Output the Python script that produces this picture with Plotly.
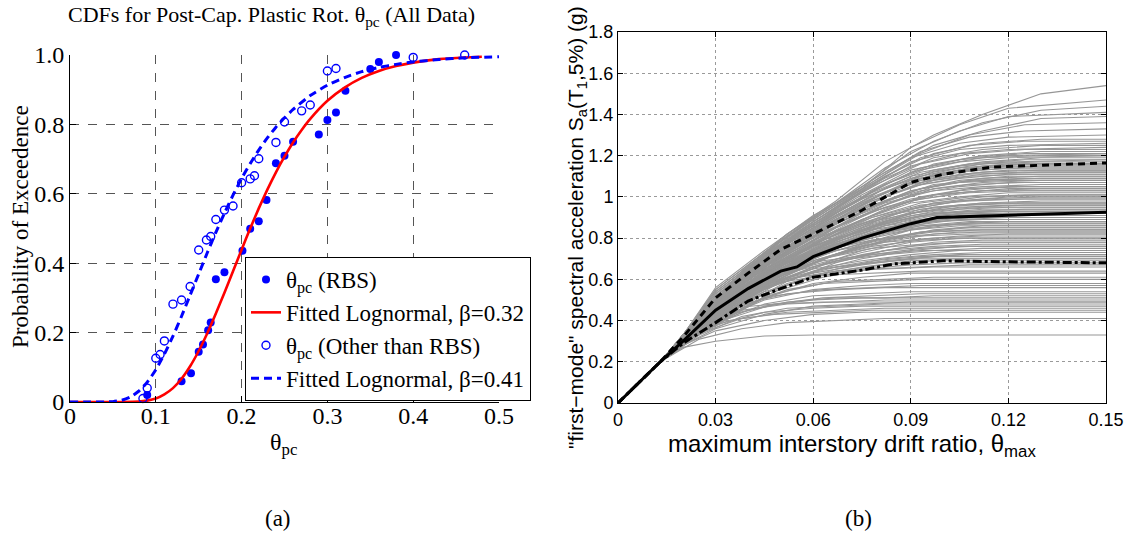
import plotly.graph_objects as go

# ---------------- Panel (a) data ----------------
RBS_THETA = [0.090, 0.130, 0.141, 0.150, 0.155, 0.161, 0.164, 0.170, 0.180, 0.201, 0.210, 0.220,
             0.229, 0.240, 0.250, 0.260, 0.290, 0.300, 0.310, 0.321, 0.350, 0.360, 0.380]
RBS_PROB = [0.020, 0.060, 0.083, 0.145, 0.166, 0.207, 0.229, 0.354, 0.374, 0.436, 0.499, 0.521,
            0.582, 0.688, 0.710, 0.750, 0.771, 0.813, 0.834, 0.897, 0.960, 0.980, 1.000]
OTH_THETA = [0.085, 0.090, 0.100, 0.105, 0.110, 0.120, 0.130, 0.140, 0.150, 0.159, 0.164, 0.170,
             0.180, 0.190, 0.200, 0.210, 0.215, 0.220, 0.240, 0.250, 0.270, 0.280, 0.300, 0.310,
             0.400, 0.460]
OTH_PROB = [0.010, 0.040, 0.126, 0.137, 0.176, 0.282, 0.294, 0.333, 0.438, 0.467, 0.477, 0.526,
            0.553, 0.565, 0.632, 0.643, 0.652, 0.701, 0.748, 0.807, 0.839, 0.856, 0.954, 0.961,
            0.993, 1.000]
FIT_RBS_X = [0.0, 0.02, 0.04, 0.06, 0.08, 0.09, 0.10, 0.11, 0.12, 0.13, 0.14, 0.15, 0.16, 0.17,
             0.18, 0.19, 0.20, 0.21, 0.22, 0.23, 0.24, 0.25, 0.26, 0.27, 0.28, 0.30, 0.32, 0.34,
             0.36, 0.38, 0.40, 0.43, 0.46, 0.48]
FIT_RBS_Y = [0.0, 0.0, 0.0, 0.0, 0.001, 0.004, 0.010, 0.022, 0.040, 0.067, 0.103, 0.147, 0.198,
             0.255, 0.315, 0.377, 0.439, 0.500, 0.558, 0.612, 0.662, 0.707, 0.748, 0.784, 0.816,
             0.868, 0.906, 0.934, 0.954, 0.968, 0.978, 0.988, 0.993, 0.995]
FIT_OTH_X = [0.0, 0.02, 0.04, 0.05, 0.06, 0.07, 0.08, 0.09, 0.10, 0.11, 0.12, 0.13, 0.14, 0.15,
             0.16, 0.17, 0.18, 0.19, 0.20, 0.21, 0.22, 0.23, 0.24, 0.25, 0.26, 0.28, 0.30, 0.32,
             0.34, 0.36, 0.38, 0.40, 0.43, 0.46, 0.50]
FIT_OTH_Y = [0.0, 0.0, 0.0, 0.001, 0.005, 0.014, 0.031, 0.057, 0.093, 0.138, 0.190, 0.247, 0.308,
             0.369, 0.430, 0.489, 0.544, 0.596, 0.644, 0.687, 0.726, 0.761, 0.792, 0.819, 0.843,
             0.883, 0.913, 0.935, 0.952, 0.964, 0.973, 0.980, 0.987, 0.992, 0.995]
A_XTICKS = [0, 0.1, 0.2, 0.3, 0.4, 0.5]
A_XTICKTEXT = ["0", "0.1", "0.2", "0.3", "0.4", "0.5"]
A_YTICKS = [0, 0.2, 0.4, 0.6, 0.8, 1.0]
A_YTICKTEXT = ["0", "0.2", "0.4", "0.6", "0.8", "1.0"]

# ---------------- Panel (b) data ----------------
# drift points shared by each family of IDA records; Sa values per record
DRIFT_A = [0.0, 0.013, 0.02, 0.03, 0.045, 0.06, 0.075, 0.09, 0.105, 0.12, 0.15]
DRIFT_B = [0.0, 0.013, 0.025, 0.038, 0.052, 0.067, 0.082, 0.097, 0.112, 0.13, 0.15]
DRIFT_C = [0.0, 0.013, 0.022, 0.034, 0.048, 0.063, 0.078, 0.093, 0.108, 0.125, 0.15]
SA_A = [
    [0, 0.2, .27, .30, .325, .33, .33, .33, .33, .33, .33],
    [0, 0.2, .28, .35, .40, .43, .44, .44, .44, .44, .44],
    [0, 0.2, .29, .38, .44, .46, .47, .47, .47, .47, .47],
    [0, 0.2, .28, .36, .43, .47, .48, .49, .49, .49, .49],
    [0, 0.2, .30, .41, .47, .50, .51, .51, .51, .51, .51],
    [0, 0.2, .29, .39, .48, .52, .53, .54, .54, .54, .54],
    [0, 0.2, .30, .40, .50, .55, .57, .58, .58, .58, .58],
    [0, 0.2, .29, .38, .51, .58, .61, .63, .63, .63, .63],
    [0, 0.2, .30, .42, .54, .61, .65, .67, .68, .68, .68],
    [0, 0.2, .29, .40, .53, .62, .66, .69, .70, .70, .70],
    [0, 0.2, .30, .43, .56, .63, .67, .70, .72, .72, .72],
    [0, 0.2, .31, .45, .57, .65, .69, .72, .74, .74, .74],
    [0, 0.2, .30, .41, .55, .64, .70, .74, .76, .76, .76],
    [0, 0.2, .30, .44, .57, .66, .72, .76, .78, .78, .78],
    [0, 0.2, .31, .46, .59, .67, .73, .78, .80, .80, .80],
    [0, 0.2, .30, .42, .56, .66, .74, .79, .81, .82, .82],
    [0, 0.2, .31, .45, .59, .69, .76, .81, .83, .83, .83],
    [0, 0.2, .30, .44, .58, .69, .76, .82, .85, .85, .85],
    [0, 0.2, .31, .47, .62, .72, .79, .84, .86, .86, .86],
    [0, 0.2, .30, .43, .57, .68, .77, .84, .87, .88, .88],
    [0, 0.2, .31, .46, .61, .72, .80, .86, .89, .89, .89],
    [0, 0.2, .31, .48, .63, .74, .81, .87, .89, .90, .90],
    [0, 0.2, .30, .44, .59, .71, .80, .87, .90, .91, .91],
    [0, 0.2, .31, .46, .61, .73, .81, .88, .91, .92, .92],
    [0, 0.2, .32, .49, .65, .76, .84, .90, .92, .92, .92],
    [0, 0.2, .30, .45, .60, .72, .81, .88, .92, .93, .93],
    [0, 0.2, .31, .47, .63, .75, .84, .91, .94, .95, .95],
    [0, 0.2, .32, .48, .64, .76, .85, .92, .95, .96, .96],
    [0, 0.2, .31, .46, .62, .74, .84, .92, .96, .97, .97],
    [0, 0.2, .32, .49, .65, .77, .87, .94, .98, .99, .99],
    [0, 0.2, .31, .47, .63, .76, .86, .94, .98, 1.00, 1.00],
    [0, 0.2, .32, .50, .66, .79, .89, .97, 1.00, 1.02, 1.02],
    [0, 0.2, .31, .48, .65, .78, .89, .98, 1.02, 1.04, 1.04],
    [0, 0.2, .32, .50, .67, .80, .91, .99, 1.03, 1.05, 1.05],
    [0, 0.2, .32, .49, .66, .80, .92, 1.01, 1.05, 1.07, 1.07],
    [0, 0.2, .33, .51, .68, .82, .94, 1.03, 1.07, 1.08, 1.08],
    [0, 0.2, .32, .49, .67, .81, .93, 1.03, 1.08, 1.10, 1.10],
    [0, 0.2, .33, .52, .69, .83, .95, 1.05, 1.09, 1.11, 1.11],
    [0, 0.2, .32, .50, .68, .83, .96, 1.06, 1.11, 1.13, 1.13],
    [0, 0.2, .33, .52, .70, .85, .97, 1.07, 1.12, 1.14, 1.14],
    [0, 0.2, .32, .51, .69, .84, .97, 1.08, 1.13, 1.15, 1.15],
    [0, 0.2, .33, .53, .71, .86, .99, 1.09, 1.14, 1.16, 1.16],
    [0, 0.2, .33, .52, .70, .86, .99, 1.10, 1.15, 1.17, 1.18],
    [0, 0.2, .33, .54, .72, .87, 1.00, 1.12, 1.17, 1.19, 1.20],
    [0, 0.2, .33, .52, .71, .87, 1.01, 1.13, 1.18, 1.20, 1.21],
    [0, 0.2, .33, .54, .72, .88, 1.02, 1.15, 1.21, 1.23, 1.24],
    [0, 0.2, .33, .53, .71, .88, 1.03, 1.17, 1.23, 1.25, 1.26],
    [0, 0.2, .33, .55, .73, .89, 1.04, 1.19, 1.26, 1.29, 1.30],
    [0, 0.2, .33, .55, .73, .90, 1.05, 1.22, 1.32, 1.39, 1.41],
    [0, 0.2, .33, .56, .74, .91, 1.04, 1.24, 1.35, 1.43, 1.47],
]
SA_B = [
    [0, 0.2, .31, .36, .39, .40, .41, .41, .41, .41, .41],
    [0, 0.2, .34, .41, .44, .45, .46, .46, .46, .46, .46],
    [0, 0.2, .33, .42, .46, .47, .48, .48, .48, .48, .48],
    [0, 0.2, .35, .45, .48, .49, .50, .50, .50, .50, .50],
    [0, 0.2, .34, .44, .49, .51, .51, .52, .52, .52, .52],
    [0, 0.2, .36, .48, .53, .55, .56, .56, .56, .56, .56],
    [0, 0.2, .35, .47, .55, .59, .60, .61, .61, .61, .61],
    [0, 0.2, .37, .51, .60, .64, .65, .66, .66, .66, .66],
    [0, 0.2, .35, .48, .58, .64, .67, .69, .69, .69, .69],
    [0, 0.2, .36, .50, .60, .66, .69, .71, .71, .71, .71],
    [0, 0.2, .34, .46, .57, .65, .70, .72, .73, .73, .73],
    [0, 0.2, .37, .52, .63, .69, .72, .74, .75, .75, .75],
    [0, 0.2, .36, .50, .61, .69, .74, .76, .77, .77, .77],
    [0, 0.2, .35, .47, .59, .68, .74, .78, .79, .79, .79],
    [0, 0.2, .38, .54, .66, .74, .78, .80, .81, .81, .81],
    [0, 0.2, .36, .51, .63, .72, .78, .82, .83, .83, .83],
    [0, 0.2, .37, .53, .65, .74, .80, .83, .84, .84, .84],
    [0, 0.2, .35, .49, .62, .72, .79, .84, .86, .86, .86],
    [0, 0.2, .38, .55, .68, .77, .83, .86, .87, .87, .87],
    [0, 0.2, .36, .52, .65, .75, .82, .86, .88, .88, .88],
    [0, 0.2, .37, .53, .66, .76, .83, .88, .89, .89, .89],
    [0, 0.2, .38, .56, .70, .80, .86, .89, .90, .90, .90],
    [0, 0.2, .36, .51, .64, .75, .83, .89, .91, .91, .91],
    [0, 0.2, .37, .54, .67, .78, .86, .91, .92, .92, .92],
    [0, 0.2, .38, .55, .69, .79, .87, .92, .93, .93, .93],
    [0, 0.2, .36, .52, .66, .77, .86, .92, .94, .94, .94],
    [0, 0.2, .37, .54, .68, .79, .88, .93, .95, .95, .95],
    [0, 0.2, .38, .56, .71, .83, .91, .95, .97, .97, .97],
    [0, 0.2, .37, .53, .67, .79, .88, .95, .97, .98, .98],
    [0, 0.2, .38, .55, .70, .82, .91, .97, .99, 1.00, 1.00],
    [0, 0.2, .36, .52, .67, .80, .90, .97, 1.00, 1.01, 1.01],
    [0, 0.2, .38, .56, .72, .85, .95, 1.01, 1.03, 1.03, 1.03],
    [0, 0.2, .37, .54, .70, .83, .94, 1.01, 1.03, 1.04, 1.04],
    [0, 0.2, .385, .58, .74, .87, .97, 1.03, 1.05, 1.06, 1.06],
    [0, 0.2, .37, .55, .71, .85, .96, 1.04, 1.07, 1.08, 1.08],
    [0, 0.2, .38, .56, .73, .87, .98, 1.06, 1.08, 1.09, 1.09],
    [0, 0.2, .37, .53, .70, .84, .96, 1.05, 1.09, 1.10, 1.10],
    [0, 0.2, .385, .58, .75, .89, 1.00, 1.08, 1.11, 1.12, 1.12],
    [0, 0.2, .38, .56, .73, .88, 1.00, 1.09, 1.12, 1.13, 1.13],
    [0, 0.2, .385, .59, .76, .90, 1.02, 1.10, 1.14, 1.15, 1.15],
    [0, 0.2, .38, .57, .74, .89, 1.02, 1.11, 1.15, 1.16, 1.16],
    [0, 0.2, .39, .60, .77, .91, 1.04, 1.12, 1.16, 1.17, 1.17],
    [0, 0.2, .385, .58, .76, .91, 1.04, 1.13, 1.17, 1.19, 1.19],
    [0, 0.2, .39, .61, .78, .93, 1.06, 1.15, 1.19, 1.20, 1.20],
    [0, 0.2, .385, .59, .77, .92, 1.06, 1.16, 1.20, 1.22, 1.22],
    [0, 0.2, .39, .62, .80, .95, 1.09, 1.19, 1.23, 1.25, 1.25],
    [0, 0.2, .39, .63, .81, .96, 1.10, 1.21, 1.26, 1.28, 1.28],
    [0, 0.2, .39, .64, .82, .97, 1.12, 1.25, 1.32, 1.38, 1.39],
    [0, 0.2, .39, .62, .81, .97, 1.14, 1.27, 1.36, 1.42, 1.44],
    [0, 0.2, .39, .63, .82, .98, 1.17, 1.30, 1.40, 1.50, 1.54],
]
SA_C = [
    [0, 0.2, .32, .40, .43, .44, .45, .45, .45, .45, .45],
    [0, 0.2, .34, .46, .48, .49, .49, .49, .49, .49, .49],
    [0, 0.2, .31, .41, .48, .51, .52, .53, .53, .53, .53],
    [0, 0.2, .33, .45, .52, .55, .56, .57, .57, .57, .57],
    [0, 0.2, .32, .43, .53, .58, .59, .60, .60, .60, .60],
    [0, 0.2, .34, .50, .58, .62, .63, .64, .64, .64, .64],
    [0, 0.2, .31, .42, .54, .61, .65, .66, .67, .67, .67],
    [0, 0.2, .33, .47, .59, .65, .68, .70, .70, .70, .70],
    [0, 0.2, .32, .44, .57, .65, .69, .71, .72, .72, .72],
    [0, 0.2, .34, .51, .63, .69, .72, .74, .74, .74, .74],
    [0, 0.2, .32, .45, .58, .67, .72, .75, .76, .76, .76],
    [0, 0.2, .33, .48, .61, .70, .75, .77, .78, .78, .78],
    [0, 0.2, .32, .46, .60, .70, .76, .79, .80, .80, .80],
    [0, 0.2, .34, .52, .66, .74, .79, .81, .82, .82, .82],
    [0, 0.2, .33, .47, .61, .72, .79, .83, .84, .84, .84],
    [0, 0.2, .32, .45, .59, .70, .78, .83, .85, .85, .85],
    [0, 0.2, .34, .50, .64, .75, .82, .86, .87, .87, .87],
    [0, 0.2, .33, .48, .62, .73, .81, .86, .88, .88, .88],
    [0, 0.2, .34, .51, .65, .76, .84, .88, .90, .90, .90],
    [0, 0.2, .33, .47, .62, .74, .83, .89, .91, .91, .91],
    [0, 0.2, .34, .50, .65, .77, .86, .91, .93, .93, .93],
    [0, 0.2, .33, .49, .63, .75, .85, .91, .93, .94, .94],
    [0, 0.2, .34, .52, .67, .79, .88, .93, .95, .96, .96],
    [0, 0.2, .33, .48, .63, .76, .87, .94, .96, .97, .97],
    [0, 0.2, .35, .53, .69, .81, .90, .96, .98, .99, .99],
    [0, 0.2, .34, .50, .66, .79, .90, .97, 1.00, 1.01, 1.01],
    [0, 0.2, .35, .54, .70, .83, .93, .99, 1.02, 1.03, 1.03],
    [0, 0.2, .33, .49, .65, .79, .91, 1.00, 1.04, 1.05, 1.05],
    [0, 0.2, .35, .55, .71, .85, .96, 1.03, 1.06, 1.07, 1.07],
    [0, 0.2, .34, .51, .68, .82, .95, 1.04, 1.08, 1.09, 1.09],
    [0, 0.2, .35, .55, .72, .86, .98, 1.06, 1.10, 1.11, 1.11],
    [0, 0.2, .34, .52, .69, .84, .97, 1.07, 1.11, 1.12, 1.12],
    [0, 0.2, .35, .56, .73, .88, 1.00, 1.09, 1.13, 1.14, 1.14],
    [0, 0.2, .34, .53, .70, .85, .99, 1.09, 1.14, 1.16, 1.16],
    [0, 0.2, .35, .57, .74, .89, 1.02, 1.12, 1.16, 1.18, 1.18],
    [0, 0.2, .35, .55, .73, .88, 1.03, 1.14, 1.19, 1.21, 1.21],
    [0, 0.2, .35, .57, .75, .90, 1.05, 1.16, 1.21, 1.23, 1.23],
    [0, 0.2, .35, .56, .74, .90, 1.06, 1.19, 1.25, 1.27, 1.27],
    [0, 0.2, .35, .57, .76, .92, 1.08, 1.22, 1.29, 1.32, 1.33],
    [0, 0.2, .35, .56, .75, .91, 1.07, 1.21, 1.30, 1.35, 1.36],
]
MED_DRIFT = [0, 0.013, 0.02, 0.03, 0.04, 0.05, 0.055, 0.06, 0.075, 0.09, 0.098, 0.11, 0.13, 0.15]
MED_SA = [0, 0.20, 0.30, 0.45, 0.555, 0.64, 0.66, 0.71, 0.80, 0.87, 0.90, 0.905, 0.915, 0.925]
P84_DRIFT = [0, 0.013, 0.02, 0.03, 0.04, 0.05, 0.06, 0.075, 0.09, 0.10, 0.115, 0.13, 0.15]
P84_SA = [0, 0.20, 0.32, 0.51, 0.63, 0.745, 0.82, 0.935, 1.07, 1.11, 1.145, 1.155, 1.165]
P16_DRIFT = [0, 0.013, 0.02, 0.03, 0.04, 0.05, 0.06, 0.075, 0.085, 0.10, 0.12, 0.15]
P16_SA = [0, 0.20, 0.29, 0.39, 0.495, 0.555, 0.61, 0.645, 0.675, 0.69, 0.685, 0.68]
B_XTICKS = [0, 0.03, 0.06, 0.09, 0.12, 0.15]
B_XTICKTEXT = ["0", "0.03", "0.06", "0.09", "0.12", "0.15"]
B_YTICKS = [0, 0.2, 0.4, 0.6, 0.8, 1.0, 1.2, 1.4, 1.6, 1.8]
B_YTICKTEXT = ["0", "0.2", "0.4", "0.6", "0.8", "1", "1.2", "1.4", "1.6", "1.8"]

SERIF = "Liberation Serif"
SANS = "Liberation Sans"
W, H = 1129, 538

fig = go.Figure()

# Panel (a)
fig.add_trace(go.Scatter(x=RBS_THETA, y=RBS_PROB, mode="markers", xaxis="x", yaxis="y",
                         marker=dict(symbol="circle", size=8, color="#0000ff"),
                         name="θ<sub>pc</sub> (RBS)", cliponaxis=False))
fig.add_trace(go.Scatter(x=FIT_RBS_X, y=FIT_RBS_Y, mode="lines", xaxis="x", yaxis="y",
                         line=dict(color="#ff0000", width=2.6, shape="spline", smoothing=0.6),
                         name="Fitted Lognormal, β=0.32"))
fig.add_trace(go.Scatter(x=OTH_THETA, y=OTH_PROB, mode="markers", xaxis="x", yaxis="y",
                         marker=dict(symbol="circle-open", size=8, color="#0000ff", line=dict(width=1.4)),
                         name="θ<sub>pc</sub> (Other than RBS)", cliponaxis=False))
fig.add_trace(go.Scatter(x=FIT_OTH_X, y=FIT_OTH_Y, mode="lines", xaxis="x", yaxis="y",
                         line=dict(color="#0000ff", width=3, dash="8px,5px", shape="spline", smoothing=0.6),
                         name="Fitted Lognormal, β=0.41"))

# Panel (b): gray IDA curves in one trace
gx, gy = [], []
for drift, family in ((DRIFT_A, SA_A), (DRIFT_B, SA_B), (DRIFT_C, SA_C)):
    for rec in family:
        gx += drift + [None]
        gy += rec + [None]
fig.add_trace(go.Scatter(x=gx, y=gy, mode="lines", xaxis="x2", yaxis="y2",
                         line=dict(color="rgb(150,150,150)", width=1.1), showlegend=False,
                         connectgaps=False))
fig.add_trace(go.Scatter(x=P16_DRIFT, y=P16_SA, mode="lines", xaxis="x2", yaxis="y2",
                         line=dict(color="black", width=3, dash="dashdot"), showlegend=False))
fig.add_trace(go.Scatter(x=P84_DRIFT, y=P84_SA, mode="lines", xaxis="x2", yaxis="y2",
                         line=dict(color="black", width=3, dash="7px,5px"), showlegend=False))
fig.add_trace(go.Scatter(x=MED_DRIFT, y=MED_SA, mode="lines", xaxis="x2", yaxis="y2",
                         line=dict(color="black", width=3), showlegend=False))

def px_x(p):
    return p / W

def px_y(p):
    return 1 - p / H

common_a = dict(showgrid=True, gridcolor="#555555", griddash="dash", gridwidth=1,
                showline=True, linecolor="black", linewidth=1, ticks="inside", ticklen=6,
                tickcolor="black", zeroline=False, mirror=False, automargin=False,
                tickfont=dict(family=SERIF, size=24, color="black"))
common_b = dict(showgrid=True, gridcolor="#9a9a9a", griddash="dot", gridwidth=1,
                showline=True, linecolor="black", linewidth=1, ticks="inside", ticklen=5,
                tickcolor="black", zeroline=False, mirror="ticks", automargin=False,
                tickfont=dict(family=SANS, size=18, color="black"))

fig.update_layout(
    width=W, height=H, margin=dict(l=0, r=0, t=0, b=0, autoexpand=False),
    paper_bgcolor="white", plot_bgcolor="white",
    xaxis=dict(domain=[px_x(70), px_x(499)], range=[0, 0.5], tickvals=A_XTICKS, ticktext=A_XTICKTEXT,
               anchor="y", ticklabelstandoff=-8, **common_a),
    yaxis=dict(domain=[px_y(402), px_y(55)], range=[0, 1.0], tickvals=A_YTICKS, ticktext=A_YTICKTEXT,
               anchor="x", **common_a),
    xaxis2=dict(domain=[px_x(618), px_x(1106)], range=[0, 0.15], tickvals=B_XTICKS, ticktext=B_XTICKTEXT,
                anchor="y2", **common_b),
    yaxis2=dict(domain=[px_y(403), px_y(32)], range=[0, 1.8], tickvals=B_YTICKS, ticktext=B_YTICKTEXT,
                anchor="x2", **common_b),
    showlegend=True,
    legend=dict(x=px_x(245), y=px_y(257), xanchor="left", yanchor="top",
                bgcolor="white", bordercolor="black", borderwidth=1,
                font=dict(family=SERIF, size=23, color="black"),
                tracegroupgap=0, itemwidth=30),
)

ann = [
    dict(text="CDFs for Post-Cap. Plastic Rot. θ<sub>pc</sub> (All Data)", x=px_x(271), y=px_y(16),
         font=dict(family=SERIF, size=22)),
    dict(text="Probability of Exceedence", x=px_x(20), y=px_y(227), textangle=-90,
         font=dict(family=SERIF, size=23)),
    dict(text="θ<sub>pc</sub>", x=px_x(283), y=px_y(444), font=dict(family=SERIF, size=24)),
    dict(text="(a)", x=px_x(278), y=px_y(518), font=dict(family=SERIF, size=23)),
    dict(text="(b)", x=px_x(858), y=px_y(518), font=dict(family=SERIF, size=23)),
    dict(text="maximum interstory drift ratio, θ<sub>max</sub>", x=px_x(852), y=px_y(445),
         font=dict(family=SANS, size=24)),
    dict(text="\"first−mode\" spectral acceleration S<sub>a</sub>(T<sub>1</sub>,5%) (g)", x=px_x(577),
         y=px_y(228), textangle=-90, font=dict(family=SANS, size=21)),
]
for a in ann:
    a.update(xref="paper", yref="paper", showarrow=False, xanchor="center", yanchor="middle")
    a["font"]["color"] = "black"
fig.update_layout(annotations=ann)

fig.write_html("out.html")
